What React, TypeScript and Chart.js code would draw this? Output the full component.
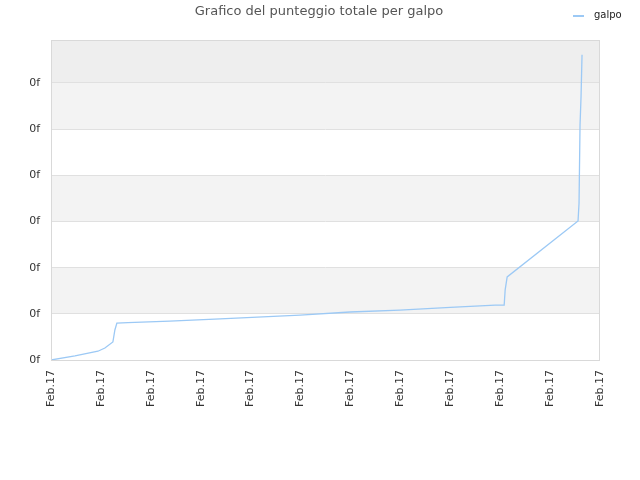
import { useEffect, useRef } from "react"
import { Chart, registerables, type ChartConfiguration, type Plugin } from "chart.js"

Chart.register(...registerables)

const seriesName = "galpo"
const chartTitle = "Grafico del punteggio totale per galpo"
const xTickLabel = "Feb.17"
const yTickLabel = "0f"

// position along the time axis (one unit per label) and total score (one unit per grid line)
const xValues = [0, 0.48, 0.94, 1.08, 1.24, 1.28, 1.32, 1.54, 2.38, 3.39, 4.99, 5.99, 6.99, 8.0, 8.9, 9.08, 9.1, 9.14, 10.56, 10.58, 10.6, 10.62, 10.64]
const yValues = [0, 0.09, 0.19, 0.26, 0.39, 0.65, 0.8, 0.81, 0.84, 0.89, 0.97, 1.04, 1.08, 1.14, 1.19, 1.19, 1.52, 1.8, 3.01, 3.4, 5.09, 5.7, 6.61]

const lineColor = "#9cc9f5"
const font = "'DejaVu Sans', sans-serif"

// alternating bands behind the plot, frame, title and legend
const decorPlugin: Plugin = {
  id: "decor",
  beforeDraw(chart) {
    const { ctx, chartArea } = chart
    const y = chart.scales.y
    const ticks = y.ticks
    ctx.save()
    ctx.fillStyle = "#ffffff"
    ctx.fillRect(chartArea.left, chartArea.top, chartArea.right - chartArea.left, chartArea.bottom - chartArea.top)
    for (let i = 0; i < ticks.length; i++) {
      const bottom = y.getPixelForValue(ticks[i].value)
      const top = i + 1 < ticks.length ? y.getPixelForValue(ticks[i + 1].value) : chartArea.top
      if (i === ticks.length - 1) ctx.fillStyle = "#eeeeee"
      else if (i % 2 === 1) ctx.fillStyle = "#f3f3f3"
      else continue
      ctx.fillRect(chartArea.left, top, chartArea.right - chartArea.left, bottom - top)
    }
    ctx.restore()
  },
  afterDraw(chart) {
    const { ctx, chartArea } = chart
    ctx.save()
    ctx.strokeStyle = "#d9d9d9"
    ctx.lineWidth = 1
    ctx.strokeRect(chartArea.left + 0.5, chartArea.top + 0.5, chartArea.right - chartArea.left - 1, chartArea.bottom - chartArea.top)
    // title
    ctx.fillStyle = "#555555"
    ctx.font = `13px ${font}`
    ctx.textAlign = "center"
    ctx.textBaseline = "middle"
    ctx.fillText(chartTitle, 319, 12)
    // legend
    const ds = chart.data.datasets[0]
    ctx.strokeStyle = ds.borderColor as string
    ctx.lineWidth = 2
    ctx.beginPath()
    ctx.moveTo(573, 16)
    ctx.lineTo(584, 16)
    ctx.stroke()
    ctx.fillStyle = "#222222"
    ctx.font = `10px ${font}`
    ctx.textAlign = "left"
    ctx.fillText(ds.label ?? "", 594, 15)
    ctx.restore()
  },
}

export default function App() {
  const chartRef = useRef<HTMLCanvasElement>(null)
  const chartInstance = useRef<Chart | null>(null)

  useEffect(() => {
    document.body.style.margin = "0"
    if (!chartRef.current) return
    if (chartInstance.current) chartInstance.current.destroy()
    const ctx = chartRef.current.getContext("2d")
    if (!ctx) return

    const config: ChartConfiguration = {
      type: "line",
      data: {
        datasets: [
          {
            label: seriesName,
            data: xValues.map((x, i) => ({ x, y: yValues[i] })),
            borderColor: lineColor,
            backgroundColor: lineColor,
            borderWidth: 1.3,
            pointRadius: 0,
            tension: 0,
            fill: false,
          },
        ],
      },
      options: {
        responsive: false,
        animation: false,
        layout: { padding: { left: 10, right: 40, top: 40, bottom: 0 } },
        scales: {
          x: {
            type: "linear",
            min: 0,
            max: 11,
            grid: { display: false, drawTicks: false },
            border: { display: false },
            ticks: {
              stepSize: 1,
              autoSkip: false,
              maxRotation: 90,
              minRotation: 90,
              padding: 10,
              color: "#333333",
              font: { family: font, size: 11 },
              callback: () => xTickLabel,
            },
            afterFit: (scale) => {
              scale.height = 120
            },
          },
          y: {
            min: 0,
            max: 6.93,
            grid: { color: "#e0e0e0", drawTicks: false },
            border: { display: false },
            afterBuildTicks: (scale) => {
              scale.ticks = scale.ticks.filter((t) => Number.isInteger(t.value))
            },
            ticks: {
              stepSize: 1,
              padding: 11,
              color: "#333333",
              font: { family: font, size: 11 },
              callback: () => yTickLabel,
            },
            afterFit: (scale) => {
              scale.width = 41
            },
          },
        },
        plugins: {
          title: { display: false },
          tooltip: { enabled: false },
          legend: { display: false },
        },
      },
      plugins: [decorPlugin],
    }

    chartInstance.current = new Chart(ctx, config)
    return () => {
      if (chartInstance.current) {
        chartInstance.current.destroy()
        chartInstance.current = null
      }
    }
  }, [])

  return (
    <div style={{ width: 640, height: 480 }}>
      <canvas ref={chartRef} width={640} height={480} />
    </div>
  )
}
